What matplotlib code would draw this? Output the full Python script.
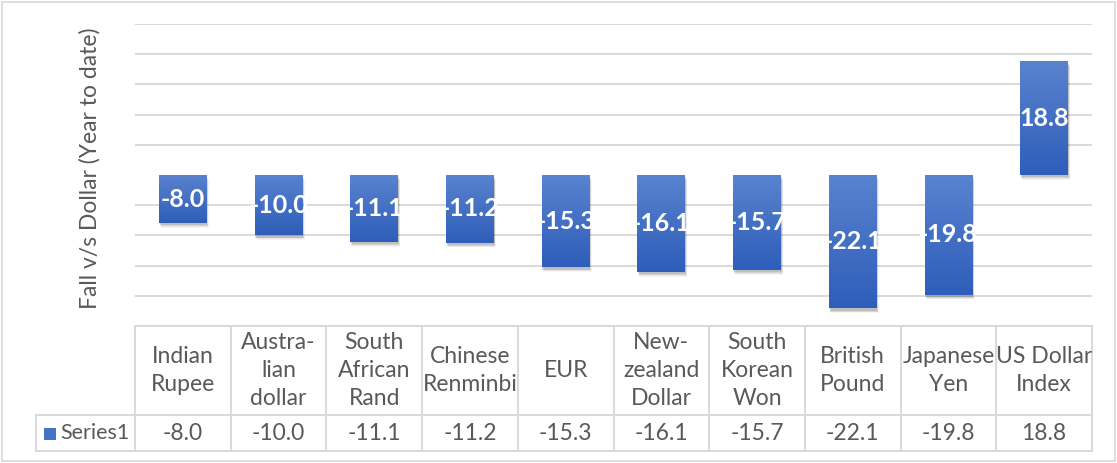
import matplotlib
matplotlib.use("Agg")
import matplotlib.pyplot as plt
import numpy as np
from matplotlib.patches import Rectangle, FancyBboxPatch
from matplotlib.colors import LinearSegmentedColormap

categories = ["Indian\nRupee", "Austra-\nlian\ndollar", "South\nAfrican\nRand",
              "Chinese\nRenminbi", "EUR", "New-\nzealand\nDollar", "South\nKorean\nWon",
              "British\nPound", "Japanese\nYen", "US Dollar\nIndex"]
values = [-8.0, -10.0, -11.1, -11.2, -15.3, -16.1, -15.7, -22.1, -19.8, 18.8]
series_name = "Series1"
ylabel = "Fall v/s Dollar (Year to date)"

W, H = 1117, 463
DPI = 100
FONT = ["Lato", "DejaVu Sans"]
plt.rcParams["font.family"] = FONT
TXT = "#595959"
GRID = "#d9d9d9"
FS = 16.5

fig = plt.figure(figsize=(W / DPI, H / DPI), dpi=DPI)

# outer chart border
fig.add_artist(FancyBboxPatch((2 / W, 2 / H), (W - 4) / W, (H - 4) / H,
                              boxstyle="square,pad=0", transform=fig.transFigure,
                              fill=False, edgecolor=GRID, linewidth=1.2))

# plot area
left, right, top, bottom = 135, 1092, 24, 326
ax = fig.add_axes([left / W, 1 - bottom / H, (right - left) / W, (bottom - top) / H])
n = len(categories)
x = np.arange(n)
ax.set_xlim(-0.5, n - 0.5)
ax.set_ylim(-25, 25)
for s in ax.spines.values():
    s.set_visible(False)
ax.set_xticks([])
ax.set_yticks([])

# gridlines (zero line hidden, bottom one is table border)
for g in [25, 20, 15, 10, 5, -5, -10, -15, -20]:
    ax.axhline(g, color=GRID, linewidth=1.4, zorder=0)

bars = ax.bar(x, values, width=0.5, color="none", zorder=2)
cmap = LinearSegmentedColormap.from_list("g", ["#2e5eba", "#5a83cf"])
grad = np.linspace(0, 1, 256).reshape(-1, 1)
for b, v in zip(bars, values):
    x0 = b.get_x()
    w = b.get_width()
    y0 = min(0, v)
    y1 = max(0, v)
    # soft shadow
    for k, a in enumerate([0.10, 0.08, 0.06, 0.04]):
        off = 0.012 + 0.008 * k
        ax.add_patch(Rectangle((x0 + off * 0.6, y0 - 0.35 - 0.15 * k), w, y1 - y0,
                               facecolor="black", alpha=a, edgecolor="none", zorder=1))
    im = ax.imshow(grad, extent=[x0, x0 + w, y0, y1], origin="lower", cmap=cmap,
                   aspect="auto", zorder=3)
    clip = Rectangle((x0, y0), w, y1 - y0, transform=ax.transData)
    im.set_clip_path(clip)
    ax.text(x0 + w / 2, (y0 + y1) / 2, f"{v:.1f}", color="white", fontsize=18,
            fontweight="bold", ha="center", va="center", zorder=5)
ax.set_xlim(-0.5, n - 0.5)
ax.set_ylim(-25, 25)

# y label
fig.text(90 / W, 1 - 168 / H, ylabel, rotation=90, ha="center", va="center",
         fontsize=16.5, color=TXT)

# data table
tr = ax.get_xaxis_transform()
ph = bottom - top
def ay(py):
    return (bottom - py) / ph

y_top, y_mid, y_bot = ay(326), ay(415), ay(451)
leg_left = -0.5 - (left - 36) / ((right - left) / n)
kw = dict(color=GRID, linewidth=1.4, transform=tr, clip_on=False)
ax.plot([-0.5, n - 0.5], [y_top, y_top], **kw)
ax.plot([leg_left, n - 0.5], [y_mid, y_mid], **kw)
ax.plot([leg_left, n - 0.5], [y_bot, y_bot], **kw)
ax.plot([leg_left, leg_left], [y_mid, y_bot], **kw)
for e in np.arange(n + 1) - 0.5:
    ax.plot([e, e], [y_top, y_bot], **kw)
for i, (c, v) in enumerate(zip(categories, values)):
    ax.text(i, (y_top + y_mid) / 2, c, transform=tr, ha="center", va="center",
            fontsize=FS, color=TXT, linespacing=1.4)
    ax.text(i, (y_mid + y_bot) / 2, f"{v:.1f}", transform=tr, ha="center",
            va="center", fontsize=FS, color=TXT)
# legend key
cw = (right - left) / n
ax.add_patch(Rectangle((leg_left + 8 / cw, ay(440)), 12 / cw, ay(428) - ay(440),
                       transform=tr, facecolor="#4472c4", edgecolor="none", clip_on=False))
ax.text(leg_left + 24 / cw, (y_mid + y_bot) / 2, series_name, transform=tr,
        ha="left", va="center", fontsize=15.5, color=TXT)

fig.savefig("out.png", dpi=DPI)
